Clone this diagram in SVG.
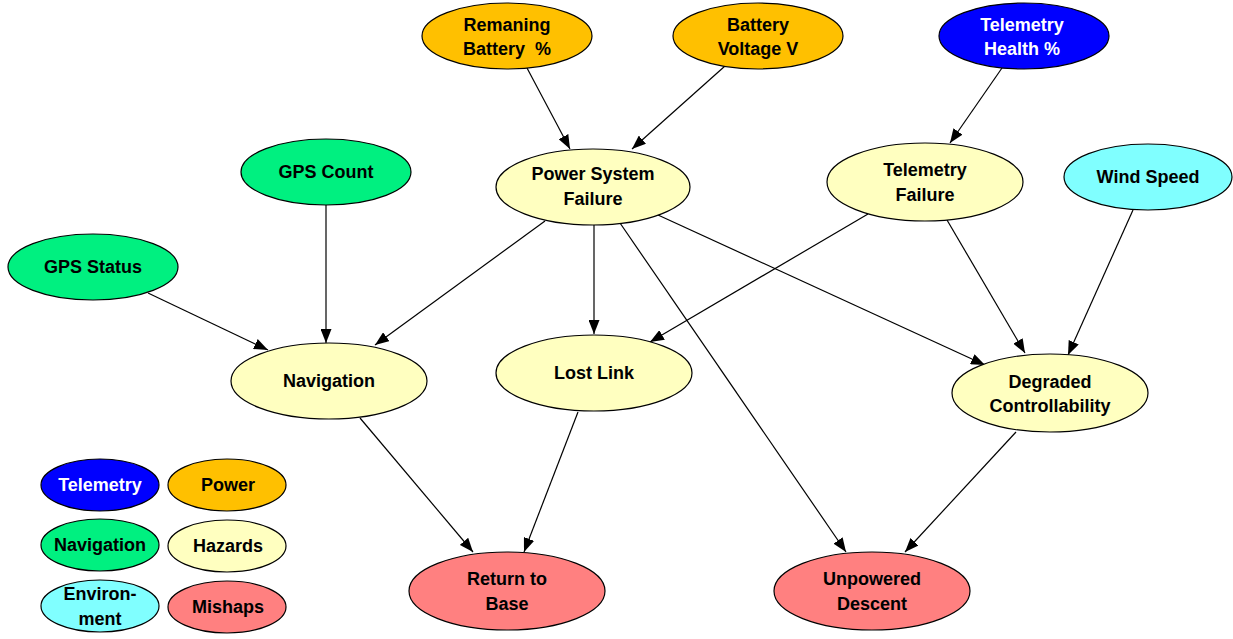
<svg xmlns="http://www.w3.org/2000/svg" width="1233" height="639" viewBox="0 0 1233 639">
<style>
ellipse{stroke:#000;stroke-width:1.2}
text{font-family:"Liberation Sans",Arial,sans-serif;font-weight:bold;font-size:18px;text-anchor:middle;fill:#000;white-space:pre}
.w{fill:#fff}
.pw{fill:#FFC000}.tl{fill:#0000FF}.nv{fill:#00F080}.hz{fill:#FFFFC0}.en{fill:#80FFFF}.ms{fill:#FF8080}
#edges line{stroke:#000;stroke-width:1.2;marker-end:url(#ah)}
</style>
<defs>
<marker id="ah" viewBox="0 0 14 11" refX="14" refY="5.5" markerWidth="14" markerHeight="11" markerUnits="userSpaceOnUse" orient="auto">
<path d="M0,0 L14,5.5 L0,11 Z" fill="#000"/>
</marker>
</defs>
<rect width="1233" height="639" fill="#fff"/>
<g id="edges">
<line x1="527" y1="68" x2="570" y2="149"/>
<line x1="725" y1="66" x2="632" y2="149"/>
<line x1="1002" y1="68" x2="950" y2="143"/>
<line x1="326" y1="205" x2="326" y2="343"/>
<line x1="148" y1="293" x2="268" y2="350"/>
<line x1="545" y1="221" x2="375" y2="345"/>
<line x1="594" y1="225" x2="594" y2="334"/>
<line x1="620" y1="223" x2="846" y2="552"/>
<line x1="658" y1="215" x2="985" y2="365"/>
<line x1="868" y1="214" x2="650" y2="342"/>
<line x1="947" y1="220" x2="1025" y2="353"/>
<line x1="1133" y1="210" x2="1068" y2="355"/>
<line x1="360" y1="418" x2="473" y2="552"/>
<line x1="578" y1="412" x2="524" y2="552"/>
<line x1="1016" y1="432" x2="905" y2="552"/>
</g>
<g id="remaining-battery"><ellipse class="pw" cx="507" cy="36" rx="85" ry="33"/><text x="507" y="31">Remaning</text><text x="507" y="55" xml:space="preserve">Battery  %</text></g>
<g id="battery-voltage"><ellipse class="pw" cx="758" cy="36" rx="85" ry="33"/><text x="758" y="31">Battery</text><text x="758" y="55">Voltage V</text></g>
<g id="telemetry-health"><ellipse class="tl" cx="1024" cy="36" rx="85" ry="33"/><text class="w" x="1022" y="31">Telemetry</text><text class="w" x="1022" y="55">Health %</text></g>
<g id="gps-count"><ellipse class="nv" cx="326" cy="172" rx="85" ry="33"/><text x="326" y="178">GPS Count</text></g>
<g id="power-system-failure"><ellipse class="hz" cx="593" cy="187" rx="97" ry="38"/><text x="593" y="180">Power System</text><text x="593" y="204.5">Failure</text></g>
<g id="telemetry-failure"><ellipse class="hz" cx="925" cy="182" rx="98" ry="39"/><text x="925" y="176">Telemetry</text><text x="925" y="200.5">Failure</text></g>
<g id="wind-speed"><ellipse class="en" cx="1148" cy="177" rx="84" ry="33"/><text x="1148" y="183">Wind Speed</text></g>
<g id="gps-status"><ellipse class="nv" cx="93" cy="267" rx="85" ry="33"/><text x="93" y="273">GPS Status</text></g>
<g id="navigation"><ellipse class="hz" cx="329" cy="381" rx="98" ry="38"/><text x="329" y="387">Navigation</text></g>
<g id="lost-link"><ellipse class="hz" cx="594" cy="373" rx="98" ry="38"/><text x="594" y="379">Lost Link</text></g>
<g id="degraded-controllability"><ellipse class="hz" cx="1050" cy="393" rx="98" ry="39"/><text x="1050" y="387.5">Degraded</text><text x="1050" y="411.5">Controllability</text></g>
<g id="return-to-base"><ellipse class="ms" cx="507" cy="591" rx="98" ry="39"/><text x="507" y="585">Return to</text><text x="507" y="609.5">Base</text></g>
<g id="unpowered-descent"><ellipse class="ms" cx="872" cy="591" rx="98" ry="39"/><text x="872" y="585">Unpowered</text><text x="872" y="609.5">Descent</text></g>
<g id="legend-telemetry"><ellipse class="tl" cx="100" cy="485" rx="59" ry="26"/><text class="w" x="100" y="491">Telemetry</text></g>
<g id="legend-power"><ellipse class="pw" cx="227" cy="485" rx="59" ry="26"/><text x="228" y="491">Power</text></g>
<g id="legend-navigation"><ellipse class="nv" cx="100" cy="545" rx="59" ry="26"/><text x="100" y="551">Navigation</text></g>
<g id="legend-hazards"><ellipse class="hz" cx="227" cy="546" rx="59" ry="26"/><text x="228" y="552">Hazards</text></g>
<g id="legend-environment"><ellipse class="en" cx="100" cy="606" rx="59" ry="26"/><text x="100" y="600">Environ-</text><text x="100" y="624.5">ment</text></g>
<g id="legend-mishaps"><ellipse class="ms" cx="227" cy="607" rx="59" ry="26"/><text x="228" y="613">Mishaps</text></g>
</svg>
